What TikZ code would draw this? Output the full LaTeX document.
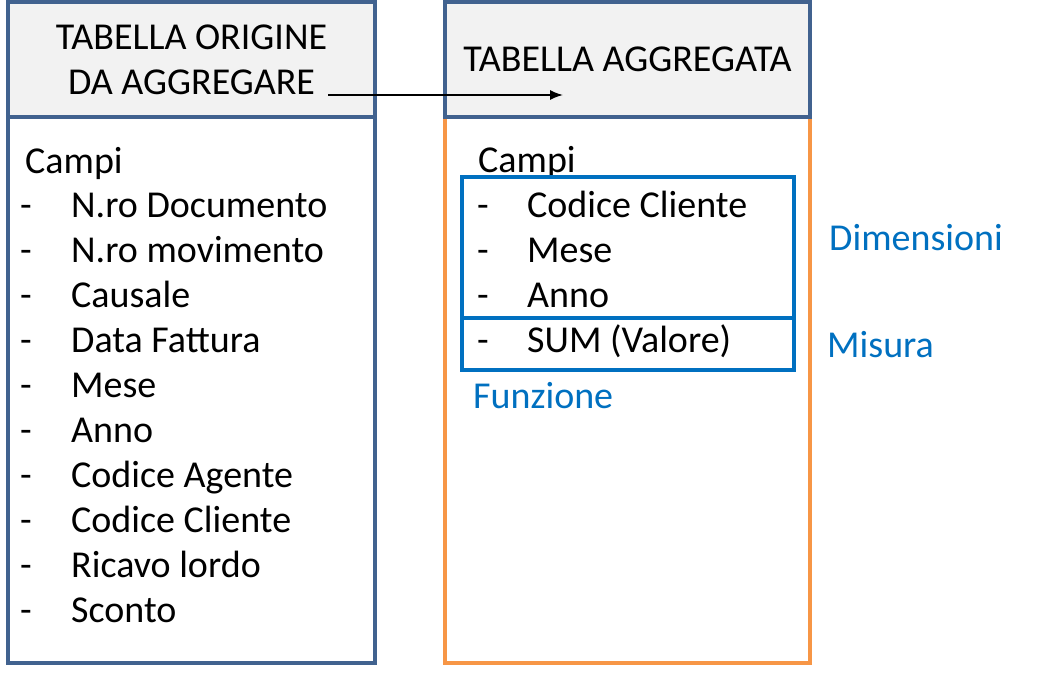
\documentclass[tikz,border=0pt]{standalone}
\usepackage{fontspec}
\setmainfont{Carlito}
\usepackage{xcolor}
\usetikzlibrary{matrix,positioning,arrows.meta}
\definecolor{hdrblue}{HTML}{41628F}
\definecolor{hdrgray}{HTML}{F2F2F2}
\definecolor{aggorange}{HTML}{F79646}
\definecolor{grpblue}{HTML}{0070C0}
\tikzset{
	hdr/.style={draw=hdrblue, fill=hdrgray, line width=4pt, minimum width=367pt, minimum height=115pt, inner sep=0pt, outer sep=0pt, align=center},
	srcbody/.style={draw=hdrblue, line width=4pt, minimum width=367pt, minimum height=546pt, inner sep=0pt, outer sep=0pt},
	aggbody/.style={draw=aggorange, line width=4pt, minimum width=365pt, minimum height=546pt, inner sep=0pt, outer sep=0pt},
	grpbox/.style={draw=grpblue, line width=3.5pt, minimum width=332pt, inner sep=0pt, outer sep=0pt},
	grplabel/.style={text=grpblue, anchor=base west, inner sep=0pt},
	fieldlist/.style={matrix of nodes, matrix anchor=north west, inner sep=0pt,
		nodes={inner sep=0pt, text height=30pt, text depth=15pt, anchor=base west},
		column 1/.style={nodes={text width=51pt}}}
}
\begin{document}
\begin{tikzpicture}[x=1pt, y=-1pt, every node/.style={font=\fontsize{38}{45}\selectfont}]
			\useasboundingbox (0,0) rectangle (1049,690);
			% tabella origine
			\node[srcbody] (srcbody) at (191.5,390) {};
			\node[hdr, above=0pt of srcbody] (srchead) {TABELLA ORIGINE\\DA AGGREGARE};
			\node[anchor=base west, inner sep=0pt] (srccampi) at (25,173) {Campi};
			\matrix (srclist) [fieldlist] at (20,187)
			{
			- & N.ro Documento \\
			- & N.ro movimento \\
			- & Causale \\
			- & Data Fattura \\
			- & Mese \\
			- & Anno \\
			- & Codice Agente \\
			- & Codice Cliente \\
			- & Ricavo lordo \\
			- & Sconto \\
			};
			% tabella aggregata
			\node[aggbody] (aggbody) at (627.5,390) {};
			\node[hdr, minimum width=365pt, above=0pt of aggbody] (agghead) {TABELLA AGGREGATA};
			\node[anchor=base west, inner sep=0pt] (aggcampi) at (478,172) {Campi};
			\node[grpbox, minimum height=141pt] (dimbox) at (628,247.5) {};
			\node[grpbox, minimum height=52pt, below=0pt of dimbox] (misbox) {};
			\matrix (agglist) [fieldlist, column 1/.style={nodes={text width=50pt}}] at (477,187)
			{
			- & Codice Cliente \\
			- & Mese \\
			- & Anno \\
			- & SUM (Valore) \\
			};
			\node[grplabel] (dimlabel) at (829,250) {Dimensioni};
			\node[grplabel] (mislabel) at (827,357) {Misura};
			\node[grplabel] (funlabel) at (473,408) {Funzione};
			% freccia
			\coordinate (arrfrom) at (328,95);
			\coordinate (arrto) at (563,95);
			\draw[-{Latex[length=13pt,width=10pt]}, line width=1.6pt] (arrfrom) -- (arrto);
		\end{tikzpicture}
\end{document}
